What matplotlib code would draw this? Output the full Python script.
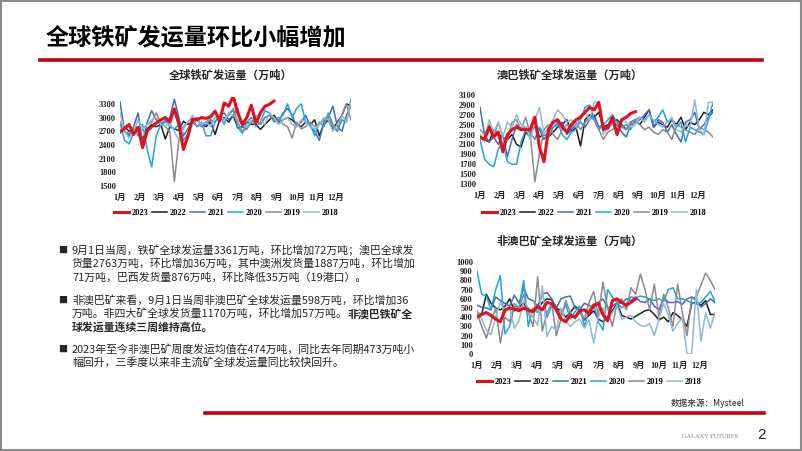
"""Slide: global iron ore shipments, three weekly line charts plus notes."""

import matplotlib
matplotlib.use('Agg')
import matplotlib.pyplot as plt
from matplotlib.lines import Line2D
from matplotlib.patches import Rectangle

W, H = 802, 451

years = ['2023', '2022', '2021', '2020', '2019', '2018']
colors = ['#E3101B', '#1E1E1E', '#4468C4', '#1BA6E2', '#8A8A8A', '#8FB9D6']
months = [f'{m}月' for m in range(1, 13)]

# 全球铁矿发运量 (万吨), weekly
global_2023 = [2680, 2760, 2850, 2630, 2780, 2340, 2700, 2800, 2880, 2950, 3000, 2900,
               3190, 2850, 2300, 2590, 2960, 2950, 3000, 2980, 3020, 3140, 2920, 3320,
               3250, 3470, 3100, 2850, 3000, 3270, 2880, 3100, 3250, 3289, 3361]
global_2022 = [2700, 2800, 2700, 2750, 2800, 2520, 2750, 2850, 2800, 2850, 2530, 2800,
               2750, 2720, 2920, 2850, 2900, 2950, 2850, 2800, 2900, 2630, 2950, 3000,
               2900, 3050, 2770, 2800, 2900, 2850, 2850, 2740, 2850, 2950, 3050, 2900,
               2950, 3000, 2950, 2850, 2800, 2900, 2850, 2950, 2600, 2850, 2950, 2750,
               2900, 3050, 3300, 3250]
global_2021 = [3350, 2700, 2600, 2800, 3100, 2420, 2900, 3150, 2950, 2850, 2900, 3000,
               3400, 3000, 2600, 2750, 2950, 3000, 2800, 2850, 2950, 2900, 3050, 3100,
               2950, 3050, 3200, 2800, 2750, 2900, 2950, 2850, 3000, 3050, 2950, 2900,
               3100, 3200, 3050, 2800, 2900, 3050, 2800, 2700, 2500, 2900, 3000, 3250,
               2800, 2700, 3050, 3250]
global_2020 = [2900, 2500, 2420, 2650, 2750, 2850, 2300, 1920, 2600, 2850, 2950, 2800,
               2750, 2850, 2500, 2650, 2900, 2800, 2900, 2600, 2600, 2900, 3050, 2850,
               3100, 3150, 2800, 2650, 2900, 3000, 2800, 2900, 3150, 3100, 2900, 2950,
               3050, 3300, 3000, 3200, 3300, 2900, 2850, 2600, 2900, 2800, 3100, 2850,
               2700, 2950, 2900, 3400]
global_2019 = [2900, 2700, 2650, 2800, 2600, 2750, 2850, 2900, 3100, 2900, 2800, 2700,
               1600, 2500, 2800, 2900, 3000, 2800, 2850, 2900, 3000, 3100, 3000, 2950,
               3050, 3200, 2900, 2700, 2750, 2900, 2950, 2850, 3000, 3050, 2950, 3000,
               2850, 2800, 2550, 2900, 2750, 2800, 2900, 2800, 2850, 2950, 3050, 2800,
               2700, 3050, 3300, 2950]
global_2018 = [3100, 2700, 2550, 2700, 2950, 2750, 2850, 2950, 3000, 2850, 2800, 2900,
               2700, 2500, 2750, 2900, 3050, 2950, 2850, 2900, 2800, 3000, 3050, 2950,
               3100, 3050, 2950, 2850, 2800, 2950, 3050, 2950, 2850, 3100, 3000, 2850,
               2950, 3000, 2850, 2800, 2950, 2900, 2800, 2750, 2850, 3000, 2950, 2700,
               2850, 3050, 2900, 3350]

# 澳巴铁矿全球发运量 (万吨)
ab_2023 = [2250, 2200, 2450, 2250, 2350, 1950, 2300, 2400, 2450, 2400, 2400, 2400,
           2650, 2050, 1750, 2400, 2550, 2600, 2450, 2350, 2500, 2600, 2650, 2750,
           2850, 2800, 2950, 2400, 2450, 2650, 2300, 2600, 2650, 2727, 2763]
ab_2022 = [2250, 2200, 2150, 2400, 2300, 2250, 2200, 2300, 2100, 2050, 2350, 2250,
           2600, 2250, 2300, 2250, 2350, 2450, 2500, 2600, 2350, 2450, 2070, 2600,
           2700, 2650, 2750, 2450, 2500, 2550, 2600, 2500, 2400, 2550, 2600, 2500,
           2650, 2800, 2450, 2550, 2500, 2450, 2600, 2500, 2650, 2400, 2550, 2500,
           2600, 2750, 2700, 2800]
ab_2021 = [2850, 2300, 2150, 2250, 2100, 2300, 1850, 2200, 2500, 2400, 2450, 2350,
           2450, 2400, 2200, 2350, 2450, 2500, 2550, 2300, 2400, 2500, 2550, 2450,
           2600, 2700, 2450, 2500, 2400, 2550, 2500, 2350, 2250, 2500, 2550, 2600,
           2700, 2800, 2450, 2600, 2550, 2350, 2500, 2300, 2150, 2550, 2600, 2750,
           2400, 2500, 2650, 2750]
ab_2020 = [2200, 1800, 1700, 1650, 2000, 2150, 1750, 1700, 1700, 2150, 2400, 2350,
           2200, 2450, 2300, 2250, 2450, 2550, 2300, 2200, 2350, 2400, 2600, 2850,
           2900, 2600, 2400, 2500, 2600, 2700, 2550, 2450, 2500, 2400, 2600, 2650,
           2600, 2700, 2550, 2650, 2800, 2550, 2600, 2450, 2550, 2150, 2450, 2400,
           2350, 2300, 2600, 2950]
ab_2019 = [2400, 2300, 2500, 2250, 2550, 2250, 2200, 2550, 2600, 2400, 2650, 2300,
           1350, 1900, 2400, 2500, 2300, 2200, 2400, 2500, 2450, 2550, 2400, 2550,
           2650, 2600, 2400, 2200, 2350, 2400, 2500, 2450, 2400, 2550, 2600, 2500,
           2400, 2450, 2350, 2300, 2400, 2350, 2200, 2500, 2450, 2400, 2350, 2300,
           2450, 2400, 2350, 2250]
ab_2018 = [2300, 2150, 2600, 2350, 2550, 2250, 2550, 2450, 2700, 2500, 2450, 2200,
           2600, 2850, 2300, 2450, 2600, 2800, 2700, 2550, 2600, 2450, 2700, 2750,
           2600, 2950, 2950, 2300, 2450, 2500, 2400, 2600, 2550, 2450, 2500, 2650,
           2550, 2700, 2600, 2500, 2450, 2550, 2650, 2400, 2350, 2500, 2450, 3000,
           2400, 2300, 2950, 2950]

# 非澳巴矿全球发运量 (万吨)
non_2023 = [400, 430, 450, 420, 380, 350, 480, 500, 490, 470, 500, 480,
            460, 520, 480, 560, 550, 480, 380, 350, 420, 400, 470, 480,
            440, 530, 550, 430, 360, 580, 600, 560, 530, 562, 598]
non_2022 = [450, 430, 650, 550, 500, 480, 520, 600, 470, 500, 560, 450,
            480, 500, 560, 600, 590, 500, 470, 400, 450, 520, 480, 370,
            420, 470, 380, 350, 400, 470, 550, 420, 400, 380, 410, 440,
            470, 480, 430, 370, 400, 350, 450, 420, 370, 300, 550, 560,
            530, 580, 430, 430]
non_2021 = [530, 510, 500, 480, 620, 580, 550, 520, 640, 550, 720, 600,
            580, 520, 650, 670, 600, 500, 600, 620, 630, 500, 480, 550,
            530, 500, 560, 600, 500, 520, 560, 550, 600, 580, 620, 570,
            560, 600, 520, 480, 620, 560, 560, 570, 540, 600, 620, 580,
            510, 550, 600, 560]
non_2020 = [900, 650, 630, 480, 700, 850, 220, 300, 520, 500, 800, 300,
            500, 450, 680, 400, 520, 500, 420, 540, 380, 460, 520, 300,
            480, 540, 350, 260, 700, 620, 560, 500, 550, 620, 610, 630,
            620, 600, 580, 600, 570, 700, 720, 600, 600, 580, 560, 540,
            560, 620, 680, 570]
non_2019 = [450, 300, 170, 350, 500, 120, 400, 350, 550, 500, 650, 450,
            300, 840, 250, 450, 550, 200, 380, 580, 450, 380, 450, 380,
            560, 680, 420, 780, 500, 300, 550, 600, 480, 720, 650, 870,
            700, 480, 760, 400, 650, 500, 300, 760, 450, 200, 600, 620,
            750, 880, 800, 700]
non_2018 = [480, 380, 260, 210, 400, 560, 450, 500, 280, 360, 580, 500,
            400, 310, 740, 190, 300, 260, 500, 360, 300, 350, 380, 280,
            370, 120, 400, 500, 350, 450, 530, 380, 400, 420, 350, 310,
            300, 330, 200, 380, 550, 420, 250, 330, 400, 0, 0, 700,
            140, 450, 280, 450]

bullets = [
    [[('9月1日当周，铁矿全球发运量3361万吨，环比增加72万吨；澳巴全球发', 'normal')],
     [('货量2763万吨，环比增加36万吨，其中澳洲发货量1887万吨，环比增加', 'normal')],
     [('71万吨，巴西发货量876万吨，环比降低35万吨（19港口）。', 'normal')]],
    [[('非澳巴矿来看，9月1日当周非澳巴矿全球发运量598万吨，环比增加36', 'normal')],
     [('万吨。非四大矿全球发货量1170万吨，环比增加57万吨。', 'normal'),
      ('非澳巴铁矿全', 'bold')],
     [('球发运量连续三周维持高位。', 'bold')]],
    [[('2023年至今非澳巴矿周度发运均值在474万吨，同比去年同期473万吨小', 'normal')],
     [('幅回升，三季度以来非主流矿全球发运量同比较快回升。', 'normal')]],
]

CJK = 'Noto Sans CJK SC'
SERIF = ['Liberation Serif', CJK]
RED_LW = 2.2
LW = 1.1


def fx(x):
    return x / W


def fy(y):
    return 1 - y / H


def add_chart(fig, box, title, title_x, title_y, series, ylim, yticks, legend_xy):
    left, top, right, bottom = box
    ax = fig.add_axes([fx(left), fy(bottom), (right - left) / W, (bottom - top) / H])
    for i in range(len(years) - 1, -1, -1):
        vals = series[i]
        ax.plot(range(len(vals)), vals, color=colors[i],
                lw=RED_LW if i == 0 else LW,
                zorder=10 if i == 0 else 3 + i)
    ax.set_xlim(0, 51)
    ax.set_ylim(*ylim)
    ax.set_yticks(yticks)
    ax.set_yticklabels([str(t) for t in yticks], fontfamily=SERIF,
                       fontweight='bold', fontsize=6)
    ax.set_xticks([m * 52 / 12 for m in range(12)])
    ax.set_xticklabels(months, fontfamily=SERIF, fontweight='bold', fontsize=6)
    ax.tick_params(length=0, pad=3, colors='#222222')
    ax.tick_params(axis='x', pad=6)
    for s in ax.spines.values():
        s.set_visible(False)
    ax.patch.set_alpha(0)

    fig.text(fx(title_x), fy(title_y), title, ha='center', va='center',
             fontfamily=CJK, fontweight='bold', fontsize=8.1, color='#262626')

    handles = [Line2D([], [], color=c, lw=RED_LW if i == 0 else LW)
               for i, c in enumerate(colors)]
    fig.legend(handles, years, loc='center', ncol=6, frameon=False,
               bbox_to_anchor=(fx(legend_xy[0]), fy(legend_xy[1])),
               bbox_transform=fig.transFigure,
               prop={'family': 'Liberation Serif', 'weight': 'bold', 'size': 6},
               handlelength=1.8, handletextpad=0.3, columnspacing=0.45,
               borderaxespad=0, borderpad=0)
    return ax


fig = plt.figure(figsize=(W / 100, H / 100), dpi=100)
fig.patch.set_facecolor('white')

# slide frame
fig.add_artist(Rectangle((0.001, 0.002), 0.998, 0.996, transform=fig.transFigure,
                         fill=False, edgecolor='#8C8C8C', lw=1.5))

# slide title and rule
fig.text(fx(46), fy(38), '全球铁矿发运量环比小幅增加', ha='left', va='center',
         fontfamily=CJK, fontweight='bold', fontsize=16.7, color='black')
fig.add_artist(Line2D([fx(40), fx(762)], [fy(60), fy(60)], color='#C3000F', lw=2.6,
                      transform=fig.transFigure))

add_chart(fig, (120, 97, 351, 186), '全球铁矿发运量（万吨）', 231, 75,
          [global_2023, global_2022, global_2021, global_2020, global_2019, global_2018],
          (1500, 3450), list(range(1500, 3301, 300)), (226, 213))
add_chart(fig, (480, 95, 713, 184), '澳巴铁矿全球发运量（万吨）', 570, 75,
          [ab_2023, ab_2022, ab_2021, ab_2020, ab_2019, ab_2018],
          (1300, 3100), list(range(1300, 3101, 200)), (594, 213))
add_chart(fig, (477, 262, 715, 354), '非澳巴矿全球发运量（万吨）', 570, 241,
          [non_2023, non_2022, non_2021, non_2020, non_2019, non_2018],
          (0, 1000), list(range(0, 1001, 100)), (589, 382))

# bullet notes
tax = fig.add_axes([0, 0, 1, 1])
tax.set_axis_off()
tax.set_xlim(0, W)
tax.set_ylim(H, 0)
line_gap = 13.8
starts = [250, 300, 349]
for block, y0 in zip(bullets, starts):
    tax.text(63, y0, '■', ha='center', va='center', fontfamily=CJK,
             fontsize=6.5, color='#262626')
    for j, parts in enumerate(block):
        prev = None
        for txt, wt in parts:
            if prev is None:
                prev = tax.text(72, y0 + j * line_gap, txt, ha='left', va='center',
                                fontfamily=CJK, fontweight=wt, fontsize=7.85,
                                color='#262626')
            else:
                prev = tax.annotate(txt, xy=(1, 0), xycoords=prev, ha='left',
                                    va='bottom', fontfamily=CJK, fontweight=wt,
                                    fontsize=7.85, color='#262626')

tax.text(745, 403, '数据来源：Mysteel', ha='right', va='center', fontfamily=CJK,
         fontsize=6.2, color='#262626')
tax.add_line(Line2D([205, 764], [413, 413], color='#C3000F', lw=2.6))
tax.text(738, 437, 'GALAXY FUTURES', ha='right', va='center',
         fontfamily='Liberation Serif', fontsize=4.6, color='#7F7F7F')
tax.text(761, 435, '2', ha='center', va='center', fontfamily='Liberation Sans',
         fontsize=11, color='#262626')

fig.savefig('out.png', dpi=100, facecolor='white')
